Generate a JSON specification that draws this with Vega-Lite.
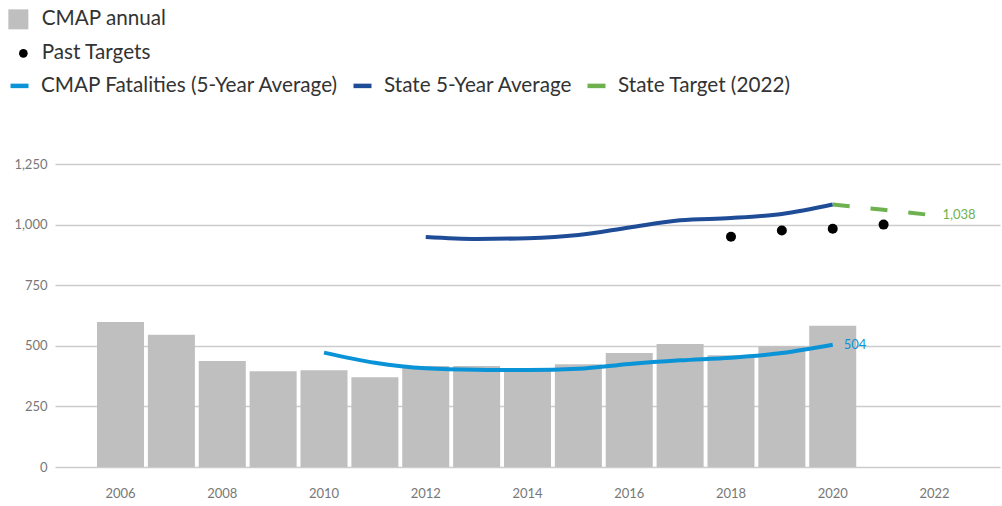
{
  "$schema": "https://vega.github.io/schema/vega-lite/v6.json",
  "autosize": {"type": "none"},
  "padding": {"left": 55, "top": 164, "right": 2, "bottom": 39},
  "width": 945,
  "height": 303,
  "background": "white",
  "config": {
    "view": {"stroke": null},
    "font": "Lato",
    "axis": {"labelFont": "Lato", "labelFontSize": 13, "labelColor": "#777777", "ticks": false, "domain": false, "title": null},
    "legend": {"labelFont": "Lato", "labelFontSize": 20.7, "labelColor": "#333333", "padding": 0, "title": null, "labelLimit": 500}
  },
  "datasets": {
    "annual": [
      {"year": 2006, "value": 598},
      {"year": 2007, "value": 546},
      {"year": 2008, "value": 437},
      {"year": 2009, "value": 395},
      {"year": 2010, "value": 399},
      {"year": 2011, "value": 370},
      {"year": 2012, "value": 417},
      {"year": 2013, "value": 417},
      {"year": 2014, "value": 398},
      {"year": 2015, "value": 424},
      {"year": 2016, "value": 470},
      {"year": 2017, "value": 507},
      {"year": 2018, "value": 461},
      {"year": 2019, "value": 498},
      {"year": 2020, "value": 583}
    ],
    "avg": [
      {"year": 2010, "series": "CMAP Fatalities (5-Year Average)", "value": 472},
      {"year": 2011, "series": "CMAP Fatalities (5-Year Average)", "value": 430},
      {"year": 2012, "series": "CMAP Fatalities (5-Year Average)", "value": 407},
      {"year": 2013, "series": "CMAP Fatalities (5-Year Average)", "value": 401},
      {"year": 2014, "series": "CMAP Fatalities (5-Year Average)", "value": 400},
      {"year": 2015, "series": "CMAP Fatalities (5-Year Average)", "value": 405},
      {"year": 2016, "series": "CMAP Fatalities (5-Year Average)", "value": 425},
      {"year": 2017, "series": "CMAP Fatalities (5-Year Average)", "value": 440},
      {"year": 2018, "series": "CMAP Fatalities (5-Year Average)", "value": 451},
      {"year": 2019, "series": "CMAP Fatalities (5-Year Average)", "value": 470},
      {"year": 2020, "series": "CMAP Fatalities (5-Year Average)", "value": 504},
      {"year": 2012, "series": "State 5-Year Average", "value": 949},
      {"year": 2013, "series": "State 5-Year Average", "value": 941},
      {"year": 2014, "series": "State 5-Year Average", "value": 944},
      {"year": 2015, "series": "State 5-Year Average", "value": 957},
      {"year": 2016, "series": "State 5-Year Average", "value": 988},
      {"year": 2017, "series": "State 5-Year Average", "value": 1018},
      {"year": 2018, "series": "State 5-Year Average", "value": 1027},
      {"year": 2019, "series": "State 5-Year Average", "value": 1044},
      {"year": 2020, "series": "State 5-Year Average", "value": 1083}
    ],
    "target": [
      {"year": 2020, "value": 1083},
      {"year": 2021, "value": 1061},
      {"year": 2022, "value": 1038}
    ],
    "past": [
      {"year": 2018, "value": 950},
      {"year": 2019, "value": 976},
      {"year": 2020, "value": 983},
      {"year": 2021, "value": 1000}
    ]
  },
  "encoding": {
    "x": {
      "field": "year",
      "type": "ordinal",
      "scale": {"domain": [2006, 2007, 2008, 2009, 2010, 2011, 2012, 2013, 2014, 2015, 2016, 2017, 2018, 2019, 2020, 2021, 2022], "paddingInner": 0.076, "paddingOuter": 0.826},
      "axis": {"values": [2006, 2008, 2010, 2012, 2014, 2016, 2018, 2020, 2022], "labelAngle": 0, "labelPadding": 20, "grid": false}
    },
    "y": {
      "field": "value",
      "type": "quantitative",
      "scale": {"domain": [0, 1250]},
      "axis": {"values": [0, 250, 500, 750, 1000, 1250], "format": ",.0f", "labelPadding": 8, "gridColor": "#cccccc", "gridWidth": 1.5}
    }
  },
  "layer": [
    {
      "data": {"name": "annual"},
      "mark": {"type": "bar"},
      "encoding": {
        "fill": {
          "datum": "CMAP annual",
          "scale": {"range": ["#bfbfbf"]},
          "legend": {"orient": "none", "legendX": -47, "legendY": -155, "symbolType": "square", "symbolSize": 400, "labelOffset": 13, "symbolStrokeWidth": 0}
        }
      }
    },
    {
      "data": {"name": "avg"},
      "mark": {"type": "line", "strokeWidth": 4, "interpolate": "monotone"},
      "encoding": {
        "stroke": {
          "field": "series",
          "type": "nominal",
          "scale": {"domain": ["CMAP Fatalities (5-Year Average)", "State 5-Year Average", "State Target (2022)"], "range": ["#0a93d6", "#1f4c97", "#6db24f"]},
          "legend": {"orient": "none", "direction": "horizontal", "legendX": -47, "legendY": -90, "symbolType": "stroke", "symbolSize": 324, "symbolStrokeWidth": 4.5, "labelOffset": 10, "columnPadding": 5}
        }
      }
    },
    {
      "data": {"name": "target"},
      "mark": {"type": "line", "strokeWidth": 4, "strokeDash": [17, 21]},
      "encoding": {
        "stroke": {"datum": "State Target (2022)"}
      }
    },
    {
      "data": {"name": "past"},
      "mark": {"type": "point", "filled": true, "color": "black", "opacity": 1, "size": 100},
      "encoding": {
        "shape": {
          "datum": "Past Targets",
          "scale": {"range": ["circle"]},
          "legend": {"orient": "none", "legendX": -42, "legendY": -121, "symbolSize": 75, "symbolFillColor": "black", "symbolStrokeColor": "black", "symbolStrokeWidth": 0, "labelOffset": 8}
        }
      }
    },
    {
      "data": {"name": "avg"},
      "transform": [{"filter": "datum.year == 2020 && datum.series == 'CMAP Fatalities (5-Year Average)'"}],
      "mark": {"type": "text", "align": "left", "baseline": "middle", "dx": 11, "fontSize": 13, "color": "#0a93d6"},
      "encoding": {"text": {"field": "value", "type": "quantitative", "format": ","}}
    },
    {
      "data": {"name": "target"},
      "transform": [{"filter": "datum.year == 2022"}],
      "mark": {"type": "text", "align": "left", "baseline": "middle", "dx": 8, "fontSize": 13, "color": "#6db24f"},
      "encoding": {"text": {"field": "value", "type": "quantitative", "format": ","}}
    }
  ]
}
